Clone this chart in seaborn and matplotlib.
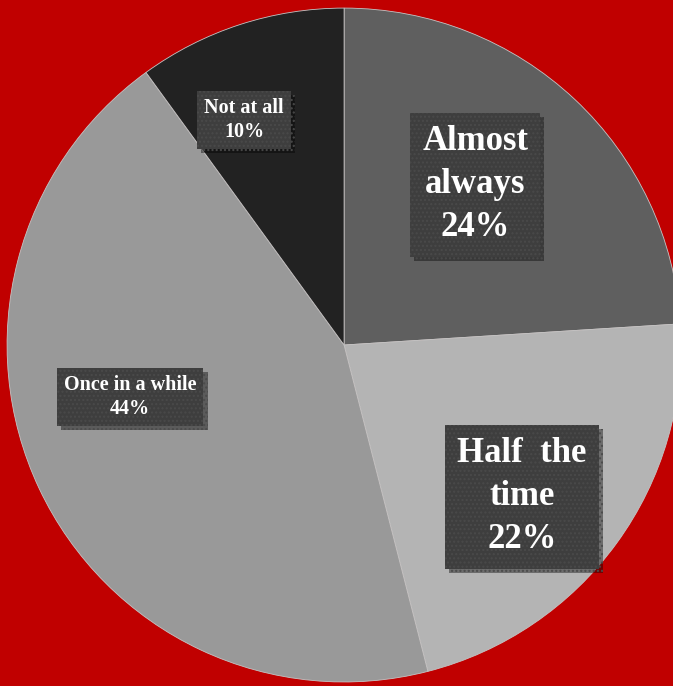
import matplotlib
matplotlib.use("Agg")
import matplotlib.pyplot as plt
import matplotlib.patheffects as pe
import seaborn as sns

sns.set_theme(style="white")
plt.rcParams["font.family"] = ["Liberation Serif", "DejaVu Serif"]

# Survey responses
categories = ["Almost always", "Half the time", "Once in a while", "Not at all"]
shares = [24, 22, 44, 10]
label_text = ["Almost\nalways", "Half  the\ntime", "Once in a while", "Not at all"]
colors = ["#5f5f5f", "#b4b4b4", "#999999", "#222222"]

# Label anchors (data units of the pie), font sizes and line spacing
label_xy = [(0.389, 0.475), (0.528, -0.451), (-0.635, -0.154), (-0.297, 0.668)]
label_size = [25, 25, 14.5, 14.5]
label_spacing = [1.4, 1.4, 1.3, 1.3]

fig = plt.figure(figsize=(6.73, 6.86), dpi=100)
fig.patch.set_facecolor("#c00000")
ax = fig.add_axes([0, 0, 1, 1])
ax.set_facecolor("#c00000")

ax.pie(shares, colors=colors, startangle=90, counterclock=False, radius=1.0,
       wedgeprops=dict(edgecolor="#c4c4c4", linewidth=0.6))

ax.set_xlim(-1.021, 0.976)
ax.set_ylim(-1.012, 1.024)
ax.set_aspect("auto")
ax.axis("off")

for txt, share, (x, y), fs, ls in zip(label_text, shares, label_xy,
                                       label_size, label_spacing):
    t = ax.text(x, y, f"{txt}\n{share}%", ha="center", va="center",
                fontsize=fs, fontweight="bold", color="white",
                linespacing=ls,
                bbox=dict(boxstyle="square,pad=0.35", facecolor="#3e3e3e",
                          edgecolor="#4a4a4a", linewidth=0, hatch="...."))
    t.get_bbox_patch().set_path_effects(
        [pe.SimplePatchShadow(offset=(3, -3), shadow_rgbFace="black", alpha=0.4),
         pe.Normal()])

fig.savefig("out.png", dpi=100, facecolor=fig.get_facecolor())
